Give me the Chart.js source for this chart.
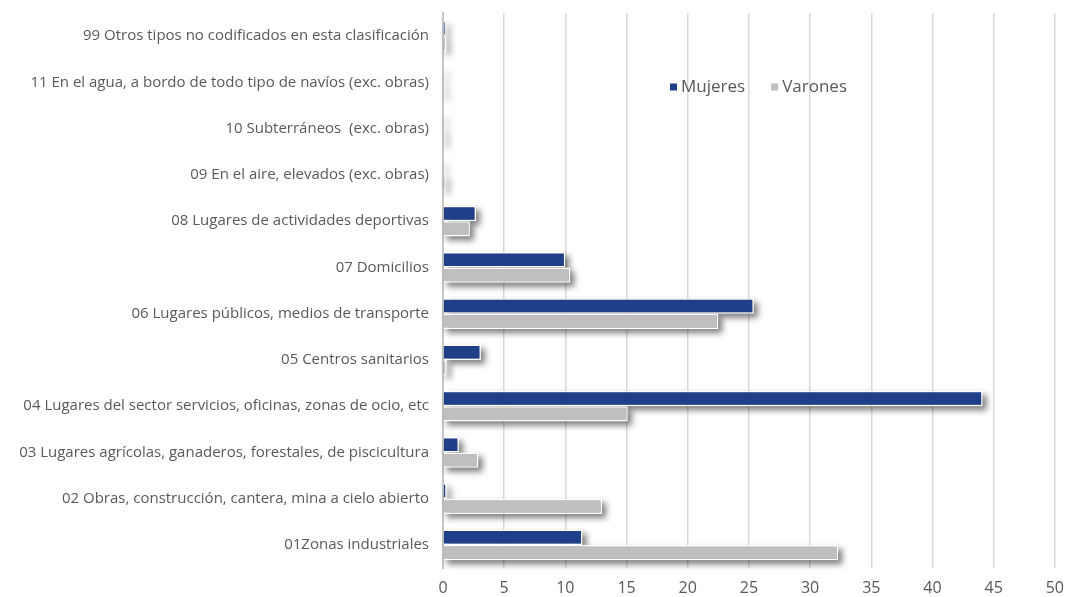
<!DOCTYPE html>
<html>
<head>
<meta charset="utf-8">
<script src="https://cdn.jsdelivr.net/npm/chart.js@4.4.1/dist/chart.umd.min.js"></script>
<style>
  html, body { margin: 0; padding: 0; background: #fff; }
  #wrap { width: 1075px; height: 597px; position: relative; }
</style>
</head>
<body>
<div id="wrap"><canvas id="chart"></canvas></div>
<script>
// categorías, de arriba a abajo
const categorias = [
  "99 Otros tipos no codificados en esta clasificación",
  "11 En el agua, a bordo de todo tipo de navíos (exc. obras)",
  "10 Subterráneos  (exc. obras)",
  "09 En el aire, elevados (exc. obras)",
  "08 Lugares de actividades deportivas",
  "07 Domicilios",
  "06 Lugares públicos, medios de transporte",
  "05 Centros sanitarios",
  "04 Lugares del sector servicios, oficinas, zonas de ocio, etc",
  "03 Lugares agrícolas, ganaderos, forestales, de piscicultura",
  "02 Obras, construcción, cantera, mina a cielo abierto",
  "01Zonas industriales"
];
const mujeres = [0.2, 0.05, 0.05, 0.05, 2.7, 10.0, 25.4, 3.1, 44.1, 1.3, 0.3, 11.4];
const varones = [0.25, 0.1, 0.15, 0.2, 2.2, 10.4, 22.5, 0.3, 15.1, 2.9, 13.0, 32.3];
const xTicks = [0, 5, 10, 15, 20, 25, 30, 35, 40, 45, 50];

const AZUL = '#1f3f88';
const GRIS = '#bfbfbf';
const FUENTE = '"Open Sans", Roboto, sans-serif';

// sombra bajo cada barra
const sombraBarras = {
  id: 'sombraBarras',
  beforeDatasetsDraw(chart) {
    const ctx = chart.ctx;
    ctx.save();
    ctx.shadowColor = 'rgba(0,0,0,0.5)';
    ctx.shadowBlur = 6;
    ctx.shadowOffsetX = 10000 + 3;
    ctx.shadowOffsetY = 4;
    ctx.fillStyle = '#000';
    chart.data.datasets.forEach((ds, i) => {
      chart.getDatasetMeta(i).data.forEach(bar => {
        const x0 = Math.min(bar.base, bar.x);
        const w = Math.abs(bar.x - bar.base);
        ctx.fillRect(x0 - 10000, bar.y - bar.height / 2, w + 1, bar.height);
      });
    });
    ctx.restore();
  }
};

// leyenda dentro del área del gráfico
const leyenda = {
  id: 'leyenda',
  afterDraw(chart) {
    const ctx = chart.ctx;
    ctx.save();
    ctx.font = '17px ' + FUENTE;
    ctx.textBaseline = 'middle';
    let x = 670, y = 87;
    chart.data.datasets.forEach(ds => {
      ctx.fillStyle = ds.backgroundColor;
      ctx.fillRect(x, y - 3.5, 7, 7);
      ctx.fillStyle = '#595959';
      ctx.fillText(ds.label, x + 11, y);
      x += 11 + ctx.measureText(ds.label).width + 26;
    });
    ctx.restore();
  }
};

new Chart(document.getElementById('chart'), {
  type: 'bar',
  data: {
    labels: categorias,
    datasets: [
      { label: 'Mujeres', data: mujeres, backgroundColor: AZUL, borderColor: '#ffffff', borderWidth: 1.5, borderSkipped: 'left' },
      { label: 'Varones', data: varones, backgroundColor: GRIS, borderColor: '#ffffff', borderWidth: 1.5, borderSkipped: 'left' }
    ]
  },
  options: {
    indexAxis: 'y',
    responsive: true,
    maintainAspectRatio: false,
    animation: false,
    layout: { padding: { top: 13, right: 20, bottom: 0, left: 0 } },
    datasets: { bar: { categoryPercentage: 0.66, barPercentage: 1 } },
    plugins: {
      legend: { display: false },
      tooltip: { enabled: false }
    },
    scales: {
      x: {
        min: 0, max: 50,
        afterBuildTicks: s => { s.ticks = xTicks.map(v => ({ value: v })); },
        afterFit: s => { s.height = 29; },
        grid: { color: '#d9d9d9', lineWidth: 1.5, drawTicks: false },
        border: { display: false },
        ticks: { color: '#595959', font: { family: FUENTE, size: 16 }, padding: 11 }
      },
      y: {
        afterFit: s => { s.width = 443; s.paddingTop = 0; s.paddingBottom = 0; },
        grid: { display: false, drawTicks: false },
        border: { display: true, color: '#c8c8c8', width: 2 },
        ticks: { color: '#595959', font: { family: FUENTE, size: 15 }, padding: 14, autoSkip: false }
      }
    }
  },
  plugins: [sombraBarras, leyenda]
});
</script>
</body>
</html>
